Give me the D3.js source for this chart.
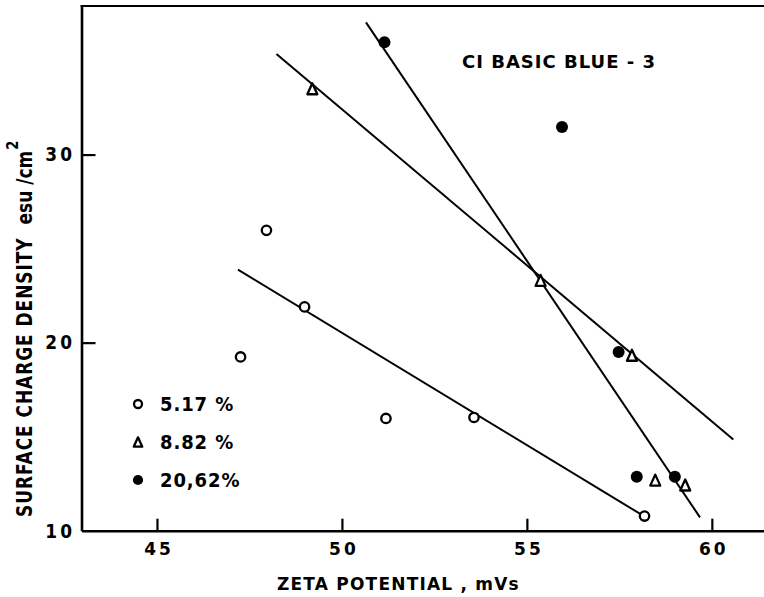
<!DOCTYPE html>
<html>
<head>
<meta charset="utf-8">
<script src="https://cdn.jsdelivr.net/npm/d3@7"></script>
<style>
  html, body { margin: 0; padding: 0; background: #fff; }
  svg { display: block; }
  text { font-family: "DejaVu Sans", sans-serif; font-weight: bold; fill: #000; }
</style>
</head>
<body>
<svg id="chart" width="764" height="597"></svg>
<script>
// ---- data ----
const xTicks = [45, 50, 55, 60];
const yTicks = [20, 30];
const yTickLabels = [10, 20, 30];

const open517 = [[47.26, 19.24], [47.96, 25.97], [48.99, 21.9], [51.19, 15.97], [53.57, 16.02], [58.18, 10.78]];
const tri882 = [[49.2, 33.5], [55.37, 23.31], [57.84, 19.33], [58.47, 12.69], [59.28, 12.43]];
const fill2062 = [[51.15, 35.97], [55.95, 31.46], [57.48, 19.5], [57.97, 12.87], [59.0, 12.87]];

const fitOpen = [[47.19, 23.88], [58.1, 10.85]];
const fitTri = [[48.23, 35.35], [60.58, 14.85]];
const fitFill = [[50.65, 37.03], [59.68, 10.71]];

const legendLabels = ["5.17 %", "8.82 %", "20,62%"];
const legendKinds = ["open", "tri", "fill"];
const title = "CI BASIC BLUE - 3";
const xTitle = "ZETA POTENTIAL , mVs";
const yTitleMain = "SURFACE CHARGE DENSITY";
const yTitleUnit = "esu /cm";
const yTitleSup = "2";

// ---- layout ----
const svg = d3.select("#chart");
const x = d3.scaleLinear().domain([42.96, 61.41]).range([81.5, 764]);
const y = d3.scaleLinear().domain([10, 37.9]).range([530.7, 6]);

// top frame line
svg.append("line").attr("x1", x(42.96) - 1).attr("x2", 764).attr("y1", y(37.9)).attr("y2", y(37.9))
  .attr("stroke", "#000").attr("stroke-width", 2.2);

// x axis
const xAxis = d3.axisBottom(x).tickValues(xTicks).tickSize(-12).tickSizeOuter(0).tickFormat(d3.format("d"));
const gx = svg.append("g").attr("transform", `translate(0,${y(10)})`).call(xAxis);
gx.attr("font-family", null).attr("font-size", null);
gx.select(".domain").attr("stroke-width", 2.6);
gx.selectAll(".tick line").attr("stroke-width", 2.2);
gx.selectAll(".tick text").attr("y", 12).attr("dy", "0.71em").attr("dx", 1.5)
  .style("font-size", "17px").attr("letter-spacing", 3);

// y axis
const yAxis = d3.axisLeft(y).tickValues(yTicks).tickSize(-14).tickSizeOuter(0).tickFormat(d3.format("d"));
const gy = svg.append("g").attr("transform", `translate(${x(42.96)},0)`).call(yAxis);
gy.attr("font-family", null).attr("font-size", null);
gy.select(".domain").attr("stroke-width", 2.6);
gy.selectAll(".tick line").attr("stroke-width", 2.2);
gy.selectAll(".tick text").remove();
svg.selectAll(".ylab").data(yTickLabels).join("text").attr("class", "ylab")
  .attr("transform", d => `translate(75,${y(d)}) scale(1,1.12)`)
  .attr("dy", "0.36em").attr("text-anchor", "end")
  .style("font-size", "17px").attr("letter-spacing", 3).text(d => d);

// fit lines
const line = d3.line().x(d => x(d[0])).y(d => y(d[1]));
[fitOpen, fitTri, fitFill].forEach(f => {
  svg.append("path").attr("d", line(f)).attr("fill", "none").attr("stroke", "#000").attr("stroke-width", 2);
});

// markers
function drawMarker(g, kind, cx, cy, s) {
  if (kind === "open") {
    g.append("circle").attr("cx", cx).attr("cy", cy).attr("r", 4.7 * s)
      .attr("fill", "#fff").attr("stroke", "#000").attr("stroke-width", 2.3);
  } else if (kind === "fill") {
    g.append("circle").attr("cx", cx).attr("cy", cy).attr("r", 6 * s).attr("fill", "#000");
  } else {
    const h = 11 * s, w = 10 * s;
    g.append("path")
      .attr("d", `M${cx},${cy - h / 2}L${cx + w / 2},${cy + h / 2}L${cx - w / 2},${cy + h / 2}Z`)
      .attr("fill", "#fff").attr("stroke", "#000").attr("stroke-width", 2.3).attr("stroke-linejoin", "round");
  }
}
const gm = svg.append("g");
open517.forEach(d => drawMarker(gm, "open", x(d[0]), y(d[1]), 1));
tri882.forEach(d => drawMarker(gm, "tri", x(d[0]), y(d[1]), 1));
fill2062.forEach(d => drawMarker(gm, "fill", x(d[0]), y(d[1]), 1));

// legend
const legY = [404, 442, 480];
legendLabels.forEach((lab, i) => {
  drawMarker(svg, legendKinds[i], 138, legY[i], 0.85);
  svg.append("text").attr("transform", `translate(160,${legY[i]}) scale(1,1.05)`).attr("dy", "0.36em")
    .style("font-size", "18px").attr("letter-spacing", 0.9).text(lab);
});

// title
svg.append("text").attr("x", 462).attr("y", 68).style("font-size", "18px")
  .attr("letter-spacing", 1.0).text(title);

// x axis title
svg.append("text").attr("x", 277).attr("y", 590).style("font-size", "17px")
  .attr("letter-spacing", 1.2).text(xTitle);

// y axis title
const yt = svg.append("text").attr("transform", "translate(32,517) rotate(-90) scale(1,1.2)")
  .style("font-size", "17px").attr("letter-spacing", 0.95);
yt.append("tspan").text(yTitleMain);
yt.append("tspan").attr("dx", 13).style("font-size", "17px").attr("letter-spacing", 0).text(yTitleUnit);
yt.append("tspan").attr("dy", -11.5).attr("dx", 1).style("font-size", "13px").text(yTitleSup);
</script>
</body>
</html>
